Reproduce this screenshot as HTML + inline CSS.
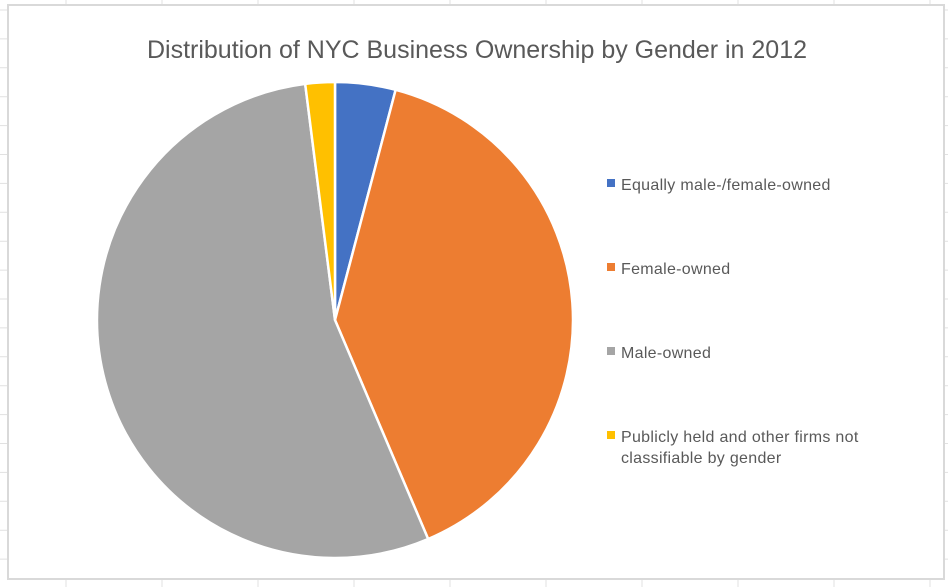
<!DOCTYPE html>
<html><head><meta charset="utf-8"><style>
body{margin:0;width:948px;height:587px;background:#fff;overflow:hidden;font-family:"Liberation Sans",sans-serif}
svg{display:block}
</style></head><body>
<svg id="c" width="948" height="587">
<g id="grid"></g>
<rect x="8" y="5" width="936" height="574" fill="#fff" stroke="#d9d9d9" stroke-width="2"/>
<text x="477" y="58" text-anchor="middle" font-size="25" fill="#595959">Distribution of NYC Business Ownership by Gender in 2012</text>
<g id="pie"></g>
<g id="legend"></g>
</svg>
<script>
const categories=["Equally male-/female-owned","Female-owned","Male-owned","Publicly held and other firms not classifiable by gender"];
const values=[4.1,39.5,54.4,2.0];
const colors=["#4472c4","#ed7d31","#a5a5a5","#ffc000"];
const NS="http://www.w3.org/2000/svg";
const g=document.getElementById('grid');
for(let y=10;y<587;y+=28.9){
  const l=document.createElementNS(NS,'line');
  l.setAttribute('x1',0);l.setAttribute('x2',948);l.setAttribute('y1',y);l.setAttribute('y2',y);
  l.setAttribute('stroke','#e1e1e1');
  
  
  g.appendChild(l);
}
for(let x=66;x<948;x+=96){
  const l=document.createElementNS(NS,'line');
  l.setAttribute('x1',x);l.setAttribute('x2',x);l.setAttribute('y1',0);l.setAttribute('y2',587);
  l.setAttribute('stroke','#e1e1e1');
  
  
  g.appendChild(l);
}
const cx=335,cy=320,r=238;
const total=values.reduce((a,b)=>a+b,0);
const pie=document.getElementById('pie');
let a0=0;
function pt(a){return [cx+r*Math.sin(a),cy-r*Math.cos(a)];}
values.forEach((v,i)=>{
  const a1=a0+v/total*2*Math.PI;
  const p0=pt(a0),p1=pt(a1);
  const large=(a1-a0)>Math.PI?1:0;
  const p=document.createElementNS(NS,'path');
  p.setAttribute('d',`M${cx},${cy}L${p0[0]},${p0[1]}A${r},${r} 0 ${large} 1 ${p1[0]},${p1[1]}Z`);
  p.setAttribute('fill',colors[i]);p.setAttribute('stroke','#fff');p.setAttribute('stroke-width','2.5');
  p.setAttribute('stroke-linejoin','round');
  
  
  pie.appendChild(p);
  a0=a1;
});
const lg=document.getElementById('legend');
const ly=[185,269,353,437];
categories.forEach((c,i)=>{
  const s=document.createElementNS(NS,'rect');
  s.setAttribute('x',607);s.setAttribute('y',ly[i]-6);s.setAttribute('width',8);s.setAttribute('height',8);
  s.setAttribute('fill',colors[i]);
  
  
  lg.appendChild(s);
  const t=document.createElementNS(NS,'text');
  t.setAttribute('x',621);t.setAttribute('y',ly[i]+5);t.setAttribute('font-size','16');t.setAttribute('letter-spacing','0.3');t.setAttribute('fill','#595959');
  
  
  if(i===3){
    const a=document.createElementNS(NS,'tspan');a.setAttribute('x',621);a.textContent="Publicly held and other firms not";
    const b=document.createElementNS(NS,'tspan');b.setAttribute('x',621);b.setAttribute('dy','21');b.textContent="classifiable by gender";
    t.appendChild(a);t.appendChild(b);
  } else t.textContent=c;
  lg.appendChild(t);
});
</script>
</body></html>
